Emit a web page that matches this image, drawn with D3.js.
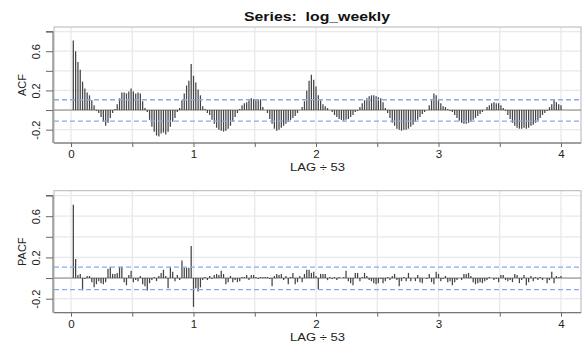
<!DOCTYPE html>
<html><head><meta charset="utf-8">
<script src="https://cdn.jsdelivr.net/npm/d3@7"></script>
<style>body{margin:0;background:#fff}svg{display:block}text{font-family:"Liberation Sans",Arial,sans-serif;white-space:pre}</style>
</head><body><svg id="c" width="582" height="344"></svg>
<script>
const title = "Series:  log_weekly";
const xLabel = "LAG \u00f7 53";
const freq = 53;
const acfVals = [
 .71,.60,.49,.41,.29,.22,.18,.15,.10,.05,
 -.01,-.03,-.07,-.12,-.16,-.13,-.08,-.03,.01,.06,
 .12,.18,.18,.17,.19,.22,.19,.17,.18,.17,
 .09,.02,-.02,-.10,-.17,-.22,-.26,-.27,-.24,-.23,
 -.25,-.22,-.17,-.12,-.08,-.02,.02,.10,.17,.25,
 .30,.47,.35,.28,.21,.15,.04,.01,-.03,-.05,
 -.10,-.14,-.18,-.20,-.21,-.22,-.21,-.19,-.16,-.12,
 -.07,-.03,.01,.05,.07,.08,.10,.12,.11,.10,
 .11,.11,.03,.00,-.03,-.09,-.14,-.19,-.21,-.20,
 -.18,-.16,-.14,-.12,-.10,-.08,-.06,-.03,.00,.03,
 .09,.20,.30,.36,.31,.24,.15,.10,.06,.04,
 .02,.00,-.02,-.05,-.07,-.09,-.10,-.11,-.10,-.09,
 -.07,-.05,-.02,-.01,.03,.07,.10,.12,.14,.15,
 .15,.14,.13,.12,.08,.02,-.03,-.08,-.13,-.16,
 -.19,-.20,-.21,-.20,-.20,-.19,-.17,-.15,-.12,-.10,
 -.07,-.04,-.02,.00,.05,.10,.17,.15,.10,.07,
 .04,.03,.01,-.01,-.02,-.05,-.08,-.11,-.13,-.14,
 -.14,-.13,-.12,-.10,-.08,-.06,-.04,-.02,.00,.03,
 .05,.07,.08,.07,.07,.05,.02,-.01,-.05,-.09,
 -.13,-.16,-.18,-.19,-.19,-.18,-.19,-.18,-.16,-.15,
 -.13,-.11,-.08,-.05,-.03,-.01,.03,.06,.11,.08,
 .06,.05];
const pacfVals = [
 .71,.185,.03,.04,-.12,-.01,.02,.02,-.04,-.09,
 -.06,-.03,-.05,-.06,-.04,.09,.11,.04,.04,.05,
 .11,.11,-.04,-.07,.03,.07,-.04,-.02,-.03,.02,
 -.06,-.08,-.12,-.05,-.02,.01,-.03,.02,.05,.08,
 .02,-.10,.11,.06,-.03,.03,-.02,.17,.10,.10,
 .10,.31,-.28,-.10,-.13,-.09,-.02,.01,-.02,.02,
 -.01,.03,.04,.03,.07,.04,-.06,-.04,.02,-.04,
 -.02,-.04,-.03,.01,.01,.03,-.02,.03,.03,.01,
 -.01,.01,.01,.01,.01,-.01,-.08,.02,.04,.03,
 .04,-.02,.02,-.06,.01,.05,-.06,-.04,.02,-.04,
 .04,.08,.08,.05,.06,.02,-.11,.04,.04,.04,
 -.02,.01,-.01,.01,-.02,.01,.00,.01,.07,-.03,
 -.05,-.07,.05,.05,-.03,.01,.05,.02,-.02,-.03,
 -.05,-.06,-.05,-.01,-.05,-.03,.01,-.02,.02,.04,
 -.02,-.08,-.03,.01,-.03,.05,-.03,.00,-.03,.03,
 -.04,-.05,.00,-.01,.04,-.04,-.06,.06,.04,-.03,
 -.01,.02,-.04,-.03,-.07,-.04,-.02,.00,-.02,.04,
 .04,.05,.02,-.04,-.06,-.05,-.04,-.05,-.03,-.02,
 .01,.00,-.02,-.01,-.04,.03,.03,-.02,-.03,-.02,
 -.04,.04,.03,-.05,-.02,.03,-.07,-.04,.02,-.03,
 .01,-.02,.01,-.02,.00,-.05,-.02,.06,-.05,.02,
 .01,.02];
const bandUpper = 0.105, bandLower = -0.112;
const xTicks = [0,0.5,1,1.5,2,2.5,3,3.5,4];
const xTickLabels = ["0","","1","","2","","3","","4"];
const yTicks = [-0.2,0,0.2,0.4,0.6,0.8];
const yTickLabels = ["-0.2","","0.2","","0.6",""];

const svg = d3.select("#c");
const x = d3.scaleLinear().domain([0,4]).range([71,561]);
const left = 54, right = 581;

function panel(vals, name, top, bottom, labelBase){
  const y = d3.scaleLinear().domain([-0.336,0.847]).range([bottom, top]);
  const g = svg.append("g");
  g.selectAll(".hg").data(yTicks).join("line")
    .attr("x1",left).attr("x2",right).attr("y1",d=>y(d)).attr("y2",d=>y(d))
    .attr("stroke","#e8e8e8").attr("stroke-width",1.3);
  g.selectAll(".vg").data(xTicks).join("line")
    .attr("y1",top).attr("y2",bottom).attr("x1",d=>x(d)).attr("x2",d=>x(d))
    .attr("stroke","#e8e8e8").attr("stroke-width",1.3);
  g.append("rect").attr("x",left).attr("y",top).attr("width",right-left).attr("height",bottom-top)
    .attr("fill","none").attr("stroke","#b5b5b5").attr("stroke-width",1);
  g.append("line").attr("x1",left).attr("x2",right).attr("y1",y(0)).attr("y2",y(0))
    .attr("stroke","#888").attr("stroke-width",1);
  g.selectAll(".bar").data(vals).join("line")
    .attr("x1",(d,i)=>x((i+1)/freq)).attr("x2",(d,i)=>x((i+1)/freq))
    .attr("y1",y(0)).attr("y2",d=>y(d))
    .attr("stroke","#444").attr("stroke-width",1.25);
  [bandUpper,bandLower].forEach(b=>{
    g.append("line").attr("x1",left).attr("x2",right).attr("y1",y(b)).attr("y2",y(b))
      .attr("stroke","#86aceb").attr("stroke-width",1.3).attr("stroke-dasharray","5,3");
  });
  const ya = d3.axisLeft(y).tickValues(yTicks).tickSize(7).tickFormat((d,i)=>yTickLabels[i]);
  const yg = g.append("g").attr("transform",`translate(${left-1},0)`).call(ya);
  yg.select(".domain").attr("stroke","#666").attr("d",`M-7,${y(0.8)}H0V${bottom}`);
  yg.selectAll(".tick line").attr("stroke","#666");
  yg.selectAll(".tick text").attr("transform","rotate(-90)")
    .attr("x",0).attr("y",-13).attr("dy",0).attr("text-anchor","middle")
    .attr("font-size",11).attr("fill","#222")
    .attr("font-family","Liberation Sans, Arial, sans-serif");
  const xa = d3.axisBottom(x).tickValues(xTicks).tickSize(4).tickFormat((d,i)=>xTickLabels[i]);
  const xg = g.append("g").attr("transform",`translate(0,${bottom})`).call(xa);
  xg.select(".domain").attr("stroke","#666").attr("d",`M${left},0H${right}`);
  xg.selectAll(".tick line").attr("stroke","#666");
  xg.selectAll(".tick text").attr("y",7).attr("dy","0.71em").attr("font-size",11.5).attr("fill","#222")
    .attr("font-family","Liberation Sans, Arial, sans-serif");
  g.append("text").attr("x",(left+right)/2).attr("y",labelBase).attr("text-anchor","middle")
    .attr("font-size",11.5).attr("fill","#222")
    .attr("textLength",55).attr("lengthAdjust","spacingAndGlyphs").text(xLabel);
  g.append("text").attr("transform",`translate(26,${(top+bottom)/2}) rotate(-90)`)
    .attr("text-anchor","middle").attr("font-size",11).attr("fill","#222").text(name);
}
panel(acfVals,"ACF",27,143,170.5);
panel(pacfVals,"PACF",190.7,312.7,341);
svg.append("text").attr("x",317).attr("y",20.5).attr("text-anchor","middle")
  .attr("font-size",12.5).attr("font-weight","bold").attr("fill","#111")
  .attr("textLength",146).attr("lengthAdjust","spacingAndGlyphs").text(title);
</script></body></html>
